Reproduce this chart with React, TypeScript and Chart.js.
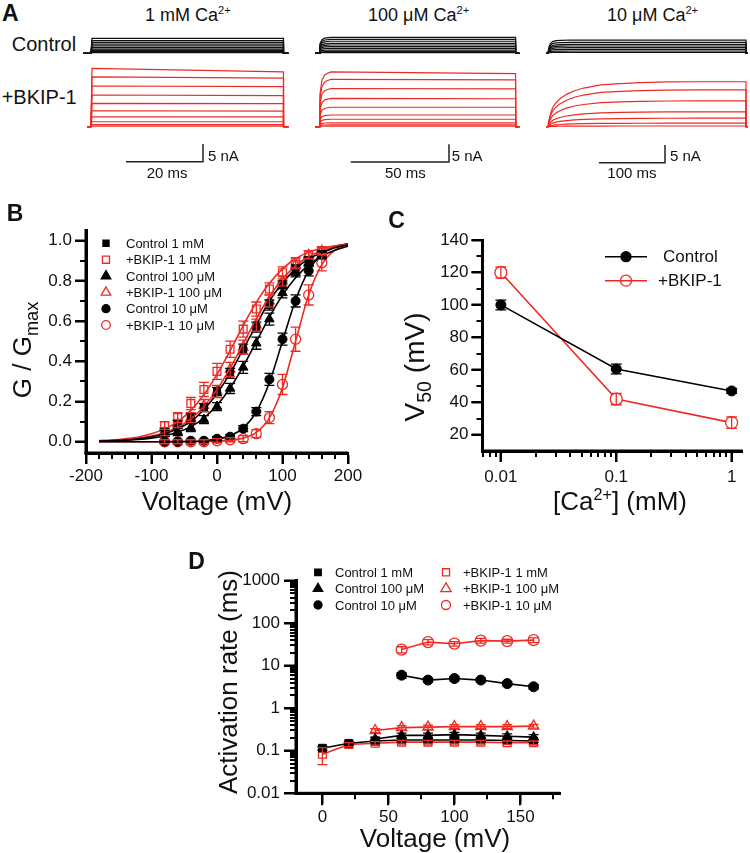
import React, { useEffect, useRef } from 'react';
import { Chart, registerables } from 'chart.js';

Chart.register(...registerables);

const FONT = '"Liberation Sans", Arial, Helvetica, sans-serif';
const RED = '#ee2a24';
const INK = '#111111';
Chart.defaults.font.family = FONT;

// ---------------- Panel A : current traces ----------------
const pulseDurationMs = [50, 100, 300];
const scaleBarMs = [20, 50, 100];
const scaleBarNA = 5;

const ctrl1mMLevels = [4.24, 3.6, 3.1, 2.6, 2.1, 1.6, 1.2, 0.85, 0.5, 0.2];
const ctrl100uMLevels = [4.5, 3.95, 3.4, 2.8, 2.35, 1.9, 1.4, 0.9, 0.47, 0.2];
const ctrl10uMLevels = [3.75, 3.1, 2.5, 2.06, 1.6, 1.13, 0.65, 0.28];

const bkip1mMStart = [16.5, 14.1, 11.5, 8.95, 6.6, 4.5, 2.8, 1.4, 0.56, 0.15];
const bkip1mMEnd = [15.5, 13.7, 11.3, 8.8, 6.5, 4.4, 2.8, 1.4, 0.56, 0.15];
const bkip100uMStart = [15.5, 13.4, 10.8, 8.0, 5.5, 3.3, 2.1, 1.1, 0.5, 0.15];
const bkip100uMEnd = [15.0, 13.2, 10.7, 7.9, 5.5, 3.3, 2.1, 1.1, 0.5, 0.15];
const bkip10uMLevels = [12.7, 10.4, 7.3, 4.2, 2.4, 1.0, 0.2];

// activation time courses (fraction of the steady level)
const stepT = [0, 0.25];
const stepF = [0, 1];
const fastT = [0, 0.5, 1.5, 3, 6];
const fastF = [0, 0.6, 0.85, 0.95, 1];
const ctrlLowCaT = [0, 1, 2, 4, 7, 12, 20, 35];
const ctrlLowCaF = [0, 0.35, 0.55, 0.75, 0.88, 0.95, 0.98, 1];
const slowT = [0, 1, 2.5, 5, 8, 12, 18, 28, 40, 54, 80, 110, 140, 180, 230];
const slowF = [0, 0.1, 0.22, 0.35, 0.45, 0.53, 0.62, 0.72, 0.8, 0.86, 0.93, 0.96, 0.98, 0.995, 1];

// ---------------- Panel B : G/Gmax ----------------
const voltB = [-80, -60, -40, -20, 0, 20, 40, 60, 80, 100, 120, 140, 160];
const gCtrl1mM = [0.05, 0.085, 0.12, 0.17, 0.25, 0.34, 0.46, 0.57, 0.68, 0.78, 0.86, 0.9, 0.93];
const gBkip1mM = [0.08, 0.12, 0.19, 0.26, 0.35, 0.46, 0.56, 0.66, 0.76, 0.84, 0.89, 0.93, 0.95];
const gCtrl100uM = [0.04, 0.05, 0.07, 0.11, 0.175, 0.265, 0.37, 0.49, 0.61, 0.74, 0.84, 0.89, 0.93];
const gBkip100uM = [0.05, 0.09, 0.12, 0.18, 0.25, 0.36, 0.47, 0.58, 0.7, 0.8, 0.88, 0.93, 0.95];
const gCtrl10uM = [0.0, 0.0, 0.005, 0.005, 0.015, 0.025, 0.065, 0.15, 0.31, 0.51, 0.7, 0.85, 0.93];
const gBkip10uM = [0.0, 0.0, 0.0, 0.0, 0.005, 0.01, 0.015, 0.04, 0.12, 0.285, 0.51, 0.73, 0.89];

const eCtrl1mM = [0.015, 0.02, 0.02, 0.02, 0.02, 0.025, 0.025, 0.025, 0.025, 0.02, 0.02, 0.02, 0.015];
const eBkip1mM = [0.02, 0.025, 0.03, 0.035, 0.04, 0.04, 0.04, 0.035, 0.03, 0.03, 0.025, 0.02, 0.02];
const eCtrl100uM = [0.015, 0.02, 0.02, 0.02, 0.02, 0.025, 0.03, 0.03, 0.03, 0.025, 0.02, 0.02, 0.015];
const eBkip100uM = [0.02, 0.02, 0.025, 0.03, 0.03, 0.035, 0.035, 0.03, 0.03, 0.025, 0.02, 0.02, 0.015];
const eCtrl10uM = [0.005, 0.005, 0.005, 0.005, 0.01, 0.01, 0.015, 0.02, 0.03, 0.03, 0.03, 0.025, 0.02];
const eBkip10uM = [0.01, 0.01, 0.01, 0.01, 0.01, 0.01, 0.015, 0.02, 0.03, 0.05, 0.06, 0.05, 0.04];

const fitV = [-180, -160, -140, -120, -100, -80, -60, -40, -20, 0, 20, 40, 60, 80, 100, 120, 140, 160, 180, 200];
const fitCtrl1mM = [0.003, 0.006, 0.009, 0.015, 0.025, 0.04, 0.065, 0.1, 0.16, 0.24, 0.34, 0.46, 0.58, 0.7, 0.79, 0.86, 0.91, 0.94, 0.965, 0.98];
const fitBkip1mM = [0.006, 0.009, 0.015, 0.024, 0.04, 0.064, 0.1, 0.156, 0.234, 0.335, 0.453, 0.578, 0.693, 0.788, 0.86, 0.91, 0.943, 0.962, 0.974, 0.982];
const fitCtrl100uM = [0.002, 0.004, 0.007, 0.011, 0.018, 0.029, 0.047, 0.075, 0.118, 0.181, 0.267, 0.375, 0.497, 0.62, 0.729, 0.816, 0.88, 0.923, 0.952, 0.972];
const fitBkip100uM = [0.004, 0.006, 0.01, 0.017, 0.028, 0.045, 0.072, 0.114, 0.175, 0.259, 0.366, 0.488, 0.611, 0.721, 0.81, 0.875, 0.921, 0.95, 0.969, 0.981];
const fitCtrl10uM = [0, 0, 0, 0, 0, 0, 0.001, 0.002, 0.005, 0.013, 0.03, 0.069, 0.149, 0.295, 0.5, 0.705, 0.851, 0.931, 0.97, 0.985];
const fitBkip10uM = [0, 0, 0, 0, 0, 0, 0, 0, 0.001, 0.003, 0.007, 0.018, 0.047, 0.119, 0.269, 0.5, 0.731, 0.881, 0.953, 0.982];

const bTicksX = [-200, -100, 0, 100, 200];
const bTicksY = [0, 0.2, 0.4, 0.6, 0.8, 1.0];

// ---------------- Panel C : V50 ----------------
const caConc = [0.01, 0.1, 1];
const v50Control = [100, 60.5, 47];
const v50ControlErr = [3, 3, 1.5];
const v50Bkip = [120, 42, 27.5];
const v50BkipErr = [3.5, 3.5, 3.5];
const cTicksX = [0.01, 0.1, 1];
const cTicksY = [20, 40, 60, 80, 100, 120, 140];

// ---------------- Panel D : activation ----------------
const voltD = [0, 20, 40, 60, 80, 100, 120, 140, 160];
const tauCtrl1mM = [0.115, 0.15, 0.17, 0.18, 0.18, 0.18, 0.18, 0.175, 0.17];
const tauCtrl100uM = [null, null, 0.19, 0.23, 0.23, 0.24, 0.23, 0.22, 0.21];
const tauCtrl10uM = [null, null, null, 6.0, 4.6, 5.0, 4.6, 3.8, 3.2];
const tauBkip1mM = [0.083, 0.14, 0.15, 0.16, 0.16, 0.16, 0.16, 0.155, 0.155];
const tauBkip100uM = [null, null, 0.3, 0.35, 0.36, 0.37, 0.37, 0.37, 0.38];
const tauBkip10uM = [null, null, null, 24, 36, 33, 39, 38, 40];
const errCtrl1mM = [0.012, 0.015, 0.015, 0.015, 0.015, 0.015, 0.015, 0.015, 0.015];
const errCtrl100uM = [null, null, 0.02, 0.03, 0.03, 0.03, 0.03, 0.03, 0.03];
const errCtrl10uM = [null, null, null, 0.9, 0.5, 0.6, 0.5, 0.4, 0.4];
const errBkip1mM = [0.036, 0.015, 0.015, 0.015, 0.015, 0.015, 0.015, 0.015, 0.015];
const errBkip100uM = [null, null, 0.03, 0.04, 0.04, 0.04, 0.04, 0.04, 0.04];
const errBkip10uM = [null, null, null, 4, 5, 4, 5, 4, 5];
const dTicksX = [0, 50, 100, 150];
const dTicksY = [0.01, 0.1, 1, 10, 100, 1000];

// ---------------- helpers ----------------
type Pt = { x: number; y: number };

function buildTrace(start: number, end: number, dur: number, shT: number[], shF: number[], pre: number, post: number): Pt[] {
  const lvl = (t: number) => start + ((end - start) * t) / dur;
  const pts: Pt[] = [{ x: -pre, y: 0 }];
  shT.forEach((t, i) => pts.push({ x: t, y: shF[i] * lvl(t) }));
  pts.push({ x: dur, y: end }, { x: dur, y: 0 }, { x: dur + post, y: 0 });
  return pts;
}

function traceSets(starts: number[], ends: number[], dur: number, shT: number[], shF: number[], pre: number, post: number, color: string, width: number) {
  return starts.map((s, i) => ({
    data: buildTrace(s, ends[i], dur, shT, shF, pre, post),
    showLine: true,
    borderColor: color,
    borderWidth: width,
    pointRadius: 0,
    tension: 0,
    clip: false,
  }));
}

const PX_PER_NA = 3.54;
const colGeom = [
  { zeroX: 91, pxPerMs: 3.85, left: 78, width: 220, bar: [203, 161.7] },
  { zeroX: 319, pxPerMs: 1.966, left: 306, width: 222, bar: [449, 162] },
  { zeroX: 548, pxPerMs: 0.66, left: 536, width: 214, bar: [665, 162.7] },
];
const ctrlRow = { top: 26, height: 34, base: 53.3 };
const bkipRow = { top: 60, height: 125, base: 126.7 };

function scaleBarSet(g: any, row: any, ms: number) {
  const cx = (g.bar[0] - g.zeroX) / g.pxPerMs;
  const cy = -(g.bar[1] - row.base) / PX_PER_NA;
  return {
    data: [{ x: cx - ms, y: cy }, { x: cx, y: cy }, { x: cx, y: cy + scaleBarNA }],
    showLine: true,
    borderColor: '#222',
    borderWidth: 1.5,
    pointRadius: 0,
    tension: 0,
    clip: false,
  };
}

const baseOpts = {
  responsive: false,
  animation: false as const,
  devicePixelRatio: 1,
  events: [] as any[],
};

function traceConfig(g: any, row: any, datasets: any[]) {
  const xmin = (g.left - g.zeroX) / g.pxPerMs;
  const xmax = (g.left + g.width - g.zeroX) / g.pxPerMs;
  const ymax = (row.base - row.top) / PX_PER_NA;
  const ymin = -(row.top + row.height - row.base) / PX_PER_NA;
  return {
    type: 'scatter',
    data: { datasets },
    options: {
      ...baseOpts,
      layout: { padding: 0 },
      plugins: { legend: { display: false }, tooltip: { enabled: false } },
      scales: {
        x: { type: 'linear', display: false, min: xmin, max: xmax },
        y: { type: 'linear', display: false, min: ymin, max: ymax },
      },
    },
  };
}

function makeTraceCharts() {
  const out: any[] = [];
  const ctrlDefs = [
    { lv: ctrl1mMLevels, t: stepT, f: stepF, pre: 2, post: 1.3 },
    { lv: ctrl100uMLevels, t: fastT, f: fastF, pre: 2, post: 2 },
    { lv: ctrl10uMLevels, t: ctrlLowCaT, f: ctrlLowCaF, pre: 3, post: 3 },
  ];
  const bkipDefs = [
    { s: bkip1mMStart, e: bkip1mMEnd, t: stepT, f: stepF, pre: 1, post: 1.3 },
    { s: bkip100uMStart, e: bkip100uMEnd, t: fastT, f: fastF, pre: 2, post: 2 },
    { s: bkip10uMLevels, e: bkip10uMLevels, t: slowT, f: slowF, pre: 3, post: 3 },
  ];
  colGeom.forEach((g, i) => {
    const dur = pulseDurationMs[i];
    const c = ctrlDefs[i];
    out.push({
      key: 'c' + i,
      left: g.left,
      top: ctrlRow.top,
      width: g.width,
      height: ctrlRow.height,
      make: () => traceConfig(g, ctrlRow, traceSets(c.lv, c.lv, dur, c.t, c.f, c.pre, c.post, '#111', 1.2)),
    });
    const b = bkipDefs[i];
    out.push({
      key: 'b' + i,
      left: g.left,
      top: bkipRow.top,
      width: g.width,
      height: bkipRow.height,
      make: () =>
        traceConfig(g, bkipRow, [
          ...traceSets(b.s, b.e, dur, b.t, b.f, b.pre, b.post, RED, 1.2),
          scaleBarSet(g, bkipRow, scaleBarMs[i]),
        ]),
    });
  });
  return out;
}

function drawMarker(ctx: CanvasRenderingContext2D, style: string, x: number, y: number, r: number, color: string, fill: boolean, lw = 1.2) {
  ctx.save();
  ctx.beginPath();
  if (style === 'circle') ctx.arc(x, y, r, 0, Math.PI * 2);
  else if (style === 'rect') {
    const h = r * Math.SQRT1_2;
    ctx.rect(x - h, y - h, 2 * h, 2 * h);
  } else {
    const a = (2 * Math.PI) / 3;
    ctx.moveTo(x, y - r);
    ctx.lineTo(x + r * Math.sin(a), y - r * Math.cos(a));
    ctx.lineTo(x + r * Math.sin(2 * a), y - r * Math.cos(2 * a));
    ctx.closePath();
  }
  if (fill) {
    ctx.fillStyle = color;
    ctx.fill();
  }
  ctx.strokeStyle = color;
  ctx.lineWidth = lw;
  ctx.stroke();
  ctx.restore();
}

const errorBars = {
  id: 'errorBars',
  afterDatasetsDraw(chart: any) {
    const ctx = chart.ctx;
    const ys = chart.scales.y;
    chart.data.datasets.forEach((ds: any, i: number) => {
      if (!ds.errors) return;
      const meta = chart.getDatasetMeta(i);
      const cap = ds.capHalf ?? 4;
      ctx.save();
      ctx.strokeStyle = ds.borderColor;
      ctx.lineWidth = 1.3;
      ctx.beginPath();
      meta.data.forEach((pt: any, j: number) => {
        const raw = ds.data[j];
        const e = ds.errors[j];
        if (!raw || e == null) return;
        const x = pt.x;
        const y1 = ys.getPixelForValue(raw.y + e);
        const lo = raw.y - e;
        const y2 = ys.getPixelForValue(ys.type === 'logarithmic' ? Math.max(lo, 1e-4) : lo);
        ctx.moveTo(x, y1);
        ctx.lineTo(x, y2);
        ctx.moveTo(x - cap, y1);
        ctx.lineTo(x + cap, y1);
        ctx.moveTo(x - cap, y2);
        ctx.lineTo(x + cap, y2);
      });
      ctx.stroke();
      ctx.restore();
    });
  },
};

// axis lines, major + minor tick marks, and the legend
function decorations(d: any) {
  return {
    id: 'customLegend',
    afterDraw(chart: any) {
      const ctx: CanvasRenderingContext2D = chart.ctx;
      const area = chart.chartArea;
      const sx = chart.scales.x;
      const sy = chart.scales.y;
      ctx.save();
      ctx.fillStyle = '#000000';
      const tick = (vert: boolean, v: number, len: number) => {
        if (vert) {
          const px = Math.round(sx.getPixelForValue(v)) - 1;
          ctx.fillRect(px, area.bottom, 2, len);
        } else {
          const py = Math.round(sy.getPixelForValue(v)) - 1;
          ctx.fillRect(area.left - len, py, len, 2);
        }
      };
      d.xMajor.forEach((v: number) => tick(true, v, d.majLen));
      d.xMinor.forEach((v: number) => tick(true, v, d.minLen));
      d.yMajor.forEach((v: number) => tick(false, v, d.majLen));
      d.yMinor.forEach((v: number) => tick(false, v, d.minLen));
      ctx.fillRect(area.left - 1.5, area.top - 1, 3, area.bottom - area.top + 2.5);
      ctx.fillRect(area.left - 1.5, area.bottom - 1.5, area.right - area.left + 1.5, 3);
      ctx.restore();

      ctx.save();
      ctx.font = `${d.legendSize}px ${FONT}`;
      ctx.textBaseline = 'middle';
      ctx.textAlign = 'left';
      d.legend.forEach((it: any) => {
        const y = it.y - d.offY;
        if (it.line) {
          ctx.beginPath();
          ctx.strokeStyle = it.color;
          ctx.lineWidth = 1.6;
          ctx.moveTo(it.line[0] - d.offX, y);
          ctx.lineTo(it.line[1] - d.offX, y);
          ctx.stroke();
        }
        drawMarker(ctx, it.style, it.mx - d.offX, y, it.r, it.color, it.fill, 1.3);
        ctx.fillStyle = INK;
        ctx.fillText(it.label, it.tx - d.offX, y + 1);
      });
      ctx.restore();
    },
  };
}

function scaleCfg(o: any) {
  return {
    type: o.type || 'linear',
    position: o.pos,
    min: o.min,
    max: o.max,
    afterBuildTicks: (s: any) => {
      s.ticks = o.major.map((v: number) => ({ value: v }));
    },
    afterFit: (s: any) => {
      if (o.pos === 'bottom') s.height = o.size;
      else s.width = o.size;
    },
    ticks: {
      autoSkip: false,
      maxRotation: 0,
      minRotation: 0,
      padding: o.pad,
      color: INK,
      font: { family: FONT, size: 17 },
      callback: (v: any) => o.fmt(Number(v)),
    },
    grid: { display: true, drawOnChartArea: false, drawTicks: true, tickLength: o.tickLen, tickColor: '#000000', tickWidth: 2, color: 'rgba(0,0,0,0)' },
    border: { display: true, color: '#000000', width: 3 },
  };
}

function frame(canvas: any, area: any) {
  return {
    padding: { left: 0, top: area.top - canvas.top, right: canvas.left + canvas.width - area.right, bottom: 0 },
    yW: area.left - canvas.left,
    xH: canvas.top + canvas.height - area.bottom,
  };
}

const pt = (xs: number[], ys: (number | null)[]) =>
  xs.map((x, i) => ({ x, y: ys[i] })).filter((p) => p.y != null) as Pt[];
const errFor = (ys: (number | null)[], es: (number | null)[]) => es.filter((_, i) => ys[i] != null);

// ---------------- Panel B ----------------
const B_CANVAS = { left: 0, top: 215, width: 370, height: 300 };
const B_AREA = { left: 86, right: 348, top: 230, bottom: 453 };

function makeB() {
  const f = frame(B_CANVAS, B_AREA);
  const series = [
    { g: gCtrl1mM, e: eCtrl1mM, fit: fitCtrl1mM, color: '#000', style: 'rect', fill: true, r: 5 },
    { g: gBkip1mM, e: eBkip1mM, fit: fitBkip1mM, color: RED, style: 'rect', fill: false, r: 5.5 },
    { g: gCtrl100uM, e: eCtrl100uM, fit: fitCtrl100uM, color: '#000', style: 'triangle', fill: true, r: 5.5 },
    { g: gBkip100uM, e: eBkip100uM, fit: fitBkip100uM, color: RED, style: 'triangle', fill: false, r: 5.5 },
    { g: gCtrl10uM, e: eCtrl10uM, fit: fitCtrl10uM, color: '#000', style: 'circle', fill: true, r: 4.5 },
    { g: gBkip10uM, e: eBkip10uM, fit: fitBkip10uM, color: RED, style: 'circle', fill: false, r: 5 },
  ];
  const datasets: any[] = [];
  series.forEach((s) => {
    datasets.push({
      data: pt(fitV, s.fit),
      showLine: true,
      borderColor: s.color,
      borderWidth: 1.6,
      pointRadius: 0,
      cubicInterpolationMode: 'monotone',
    });
  });
  series.forEach((s) => {
    datasets.push({
      data: pt(voltB, s.g),
      errors: s.e,
      capHalf: 5,
      showLine: false,
      borderColor: s.color,
      backgroundColor: s.fill ? s.color : 'rgba(255,255,255,0)',
      pointStyle: s.style,
      pointRadius: s.r,
      pointBorderWidth: s.fill ? 1 : 1.3,
    });
  });
  const minX: number[] = [];
  for (let v = -180; v < 200; v += 20) if (v % 100 !== 0) minX.push(v);
  const legendRows = [243.3, 259.7, 276, 292.3, 308.7, 325];
  const legendItems = [
    { label: 'Control 1 mM', style: 'rect', fill: true, color: '#000', r: 4.3 },
    { label: '+BKIP-1 1 mM', style: 'rect', fill: false, color: RED, r: 5 },
    { label: 'Control 100 μM', style: 'triangle', fill: true, color: '#000', r: 5.5 },
    { label: '+BKIP-1 100 μM', style: 'triangle', fill: false, color: RED, r: 5.5 },
    { label: 'Control 10 μM', style: 'circle', fill: true, color: '#000', r: 4 },
    { label: '+BKIP-1 10 μM', style: 'circle', fill: false, color: RED, r: 4.3 },
  ].map((it, i) => ({ ...it, mx: 106, tx: 126, y: legendRows[i] }));
  return {
    type: 'scatter',
    data: { datasets },
    options: {
      ...baseOpts,
      layout: { padding: f.padding },
      plugins: { legend: { display: false }, tooltip: { enabled: false } },
      scales: {
        x: scaleCfg({ pos: 'bottom', min: -200, max: 200, major: bTicksX, fmt: (v: number) => String(v), size: f.xH, pad: 2, tickLen: 11 }),
        y: scaleCfg({ pos: 'left', min: -0.056, max: 1.053, major: bTicksY, fmt: (v: number) => v.toFixed(1), size: f.yW, pad: 3, tickLen: 11 }),
      },
    },
    plugins: [
      errorBars,
      decorations({
        xMajor: bTicksX, xMinor: minX, yMajor: bTicksY, yMinor: [0.1, 0.3, 0.5, 0.7, 0.9],
        majLen: 11, minLen: 6, legend: legendItems, offX: B_CANVAS.left, offY: B_CANVAS.top, legendSize: 13,
      }),
    ],
  };
}

// ---------------- Panel C ----------------
const C_CANVAS = { left: 380, top: 225, width: 370, height: 290 };
const C_AREA = { left: 482.5, right: 747, top: 240, bottom: 451 };

function makeC() {
  const f = frame(C_CANVAS, C_AREA);
  const minX = [0.007, 0.008, 0.009];
  [0.01, 0.1].forEach((d) => {
    for (let m = 2; m <= 9; m++) minX.push(+(m * d).toPrecision(3));
  });
  const legendItems = [
    { label: 'Control', style: 'circle', fill: true, color: '#000', r: 5, mx: 626, tx: 663, y: 256.7, line: [605, 647] },
    { label: '+BKIP-1', style: 'circle', fill: false, color: RED, r: 5.5, mx: 626, tx: 658, y: 280.7, line: [605, 647] },
  ];
  return {
    type: 'scatter',
    data: {
      datasets: [
        {
          data: pt(caConc, v50Control),
          errors: v50ControlErr,
          capHalf: 5.5,
          showLine: true,
          borderColor: '#000',
          backgroundColor: '#000',
          borderWidth: 1.6,
          pointStyle: 'circle',
          pointRadius: 5,
          pointBorderWidth: 1,
        },
        {
          data: pt(caConc, v50Bkip),
          errors: v50BkipErr,
          capHalf: 5.5,
          showLine: true,
          borderColor: RED,
          backgroundColor: '#ffffff',
          borderWidth: 1.6,
          pointStyle: 'circle',
          pointRadius: 6,
          pointBorderWidth: 1.3,
        },
      ],
    },
    options: {
      ...baseOpts,
      layout: { padding: f.padding },
      plugins: { legend: { display: false }, tooltip: { enabled: false } },
      scales: {
        x: scaleCfg({ type: 'logarithmic', pos: 'bottom', min: 0.00693, max: 1.247, major: cTicksX, fmt: (v: number) => String(v), size: f.xH, pad: 5, tickLen: 11 }),
        y: scaleCfg({ pos: 'left', min: 10, max: 140, major: cTicksY, fmt: (v: number) => String(v), size: f.yW, pad: 3, tickLen: 11 }),
      },
    },
    plugins: [
      errorBars,
      decorations({
        xMajor: cTicksX, xMinor: minX, yMajor: cTicksY, yMinor: [30, 50, 70, 90, 110, 130],
        majLen: 11, minLen: 6, legend: legendItems, offX: C_CANVAS.left, offY: C_CANVAS.top, legendSize: 17,
      }),
    ],
  };
}

// ---------------- Panel D ----------------
const D_CANVAS = { left: 190, top: 565, width: 560, height: 288 };
const D_AREA = { left: 296, right: 560, top: 580.7, bottom: 793.3 };

function makeD() {
  const f = frame(D_CANVAS, D_AREA);
  const series = [
    { v: tauCtrl1mM, e: errCtrl1mM, color: '#000', style: 'rect', fill: true, r: 5.5 },
    { v: tauCtrl100uM, e: errCtrl100uM, color: '#000', style: 'triangle', fill: true, r: 5.5 },
    { v: tauCtrl10uM, e: errCtrl10uM, color: '#000', style: 'circle', fill: true, r: 5 },
    { v: tauBkip1mM, e: errBkip1mM, color: RED, style: 'rect', fill: false, r: 5.5 },
    { v: tauBkip100uM, e: errBkip100uM, color: RED, style: 'triangle', fill: false, r: 6 },
    { v: tauBkip10uM, e: errBkip10uM, color: RED, style: 'circle', fill: false, r: 5.5 },
  ];
  const datasets = series.map((s) => ({
    data: pt(voltD, s.v),
    errors: errFor(s.v, s.e),
    capHalf: 5,
    showLine: true,
    borderColor: s.color,
    backgroundColor: s.fill ? s.color : 'rgba(255,255,255,0)',
    borderWidth: 1.6,
    pointStyle: s.style,
    pointRadius: s.r,
    pointBorderWidth: s.fill ? 1 : 1.3,
  }));
  const minY: number[] = [];
  [0.01, 0.1, 1, 10, 100].forEach((d) => {
    for (let m = 2; m <= 9; m++) minY.push(+(m * d).toPrecision(3));
  });
  const rows = [572.3, 588.7, 605];
  const legendItems = [
    { label: 'Control 1 mM', style: 'rect', fill: true, color: '#000', r: 4.6, mx: 318, tx: 335, y: rows[0] },
    { label: 'Control 100 μM', style: 'triangle', fill: true, color: '#000', r: 5.5, mx: 318, tx: 335, y: rows[1] },
    { label: 'Control 10 μM', style: 'circle', fill: true, color: '#000', r: 4, mx: 318, tx: 335, y: rows[2] },
    { label: '+BKIP-1 1 mM', style: 'rect', fill: false, color: RED, r: 5, mx: 446, tx: 463, y: rows[0] },
    { label: '+BKIP-1 100 μM', style: 'triangle', fill: false, color: RED, r: 6, mx: 446, tx: 463, y: rows[1] },
    { label: '+BKIP-1 10 μM', style: 'circle', fill: false, color: RED, r: 4.5, mx: 446, tx: 463, y: rows[2] },
  ];
  return {
    type: 'scatter',
    data: { datasets },
    options: {
      ...baseOpts,
      layout: { padding: f.padding },
      plugins: { legend: { display: false }, tooltip: { enabled: false } },
      scales: {
        x: scaleCfg({ pos: 'bottom', min: -20, max: 180, major: dTicksX, fmt: (v: number) => String(v), size: f.xH, pad: 3, tickLen: 11 }),
        y: scaleCfg({ type: 'logarithmic', pos: 'left', min: 0.01, max: 1000, major: dTicksY, fmt: (v: number) => String(v), size: f.yW, pad: 4, tickLen: 12 }),
      },
    },
    plugins: [
      errorBars,
      decorations({
        xMajor: dTicksX, xMinor: [25, 75, 125, 175], yMajor: dTicksY, yMinor: minY,
        majLen: 12, minLen: 6, legend: legendItems, offX: D_CANVAS.left, offY: D_CANVAS.top, legendSize: 13,
      }),
    ],
  };
}

// ---------------- React ----------------
function ChartBox({ left, top, width, height, make }: any) {
  const ref = useRef<HTMLCanvasElement>(null);
  useEffect(() => {
    const chart = new Chart(ref.current as HTMLCanvasElement, make());
    return () => chart.destroy();
  }, []);
  return (
    <canvas
      ref={ref}
      width={width}
      height={height}
      style={{ position: 'absolute', left, top, width, height, display: 'block' }}
    />
  );
}

function T({ x, y, size, bold, center, children }: any) {
  return (
    <div
      style={{
        position: 'absolute',
        left: x,
        top: y - 0.49 * size,
        fontSize: size,
        lineHeight: `${size}px`,
        fontWeight: bold ? 700 : 400,
        fontFamily: FONT,
        whiteSpace: 'nowrap',
        color: INK,
        transform: center ? 'translateX(-50%)' : undefined,
      }}
    >
      {children}
    </div>
  );
}

function RT({ cx, cy, size, children }: any) {
  return (
    <div
      style={{
        position: 'absolute',
        left: cx,
        top: cy,
        fontSize: size,
        lineHeight: `${size}px`,
        fontFamily: FONT,
        whiteSpace: 'nowrap',
        color: INK,
        transform: 'translate(-50%, -50%) rotate(-90deg)',
      }}
    >
      {children}
    </div>
  );
}

const Sup = ({ children }: any) => (
  <span style={{ fontSize: '0.62em', position: 'relative', top: '-0.62em', lineHeight: 0 }}>{children}</span>
);
const Sub = ({ children }: any) => (
  <span style={{ fontSize: '0.7em', position: 'relative', top: '0.38em', lineHeight: 0 }}>{children}</span>
);

export default function App() {
  const traces = makeTraceCharts();
  return (
    <div style={{ position: 'absolute', left: 0, top: 0, width: 750, height: 853, background: '#fff', overflow: 'hidden', fontFamily: FONT }}>
      {traces.map((c) => (
        <ChartBox key={c.key} left={c.left} top={c.top} width={c.width} height={c.height} make={c.make} />
      ))}
      <ChartBox {...B_CANVAS} make={makeB} />
      <ChartBox {...C_CANVAS} make={makeC} />
      <ChartBox {...D_CANVAS} make={makeD} />

      {/* Panel A text */}
      <T x={2} y={13.3} size={23} bold>A</T>
      <T x={145} y={15} size={18}>1 mM Ca<Sup>2+</Sup></T>
      <T x={368} y={15} size={18}>100 μM Ca<Sup>2+</Sup></T>
      <T x={607} y={15} size={18}>10 μM Ca<Sup>2+</Sup></T>
      <T x={11.7} y={44.2} size={20}>Control</T>
      <T x={1.7} y={97} size={20}>+BKIP-1</T>
      <T x={208} y={155.8} size={15}>5 nA</T>
      <T x={146.7} y={172.5} size={15}>20 ms</T>
      <T x={451.7} y={155.8} size={15}>5 nA</T>
      <T x={385} y={172.5} size={15}>50 ms</T>
      <T x={670} y={155.8} size={15}>5 nA</T>
      <T x={607.3} y={172.5} size={15}>100 ms</T>

      {/* Panel B text */}
      <T x={6.7} y={213.3} size={23} bold>B</T>
      <RT cx={22} cy={350} size={26}>G / G<Sub>max</Sub></RT>
      <T x={217} y={500.5} size={26} center>Voltage (mV)</T>

      {/* Panel C text */}
      <T x={388.3} y={220} size={23} bold>C</T>
      <RT cx={415} cy={367} size={28}>V<Sub>50</Sub> (mV)</RT>
      <T x={620} y={501} size={26} center>[Ca<Sup>2+</Sup>] (mM)</T>

      {/* Panel D text */}
      <T x={188.3} y={561.7} size={23} bold>D</T>
      <RT cx={228} cy={682} size={26}>Activation rate (ms)</RT>
      <T x={435} y={837.5} size={26} center>Voltage (mV)</T>
    </div>
  );
}
